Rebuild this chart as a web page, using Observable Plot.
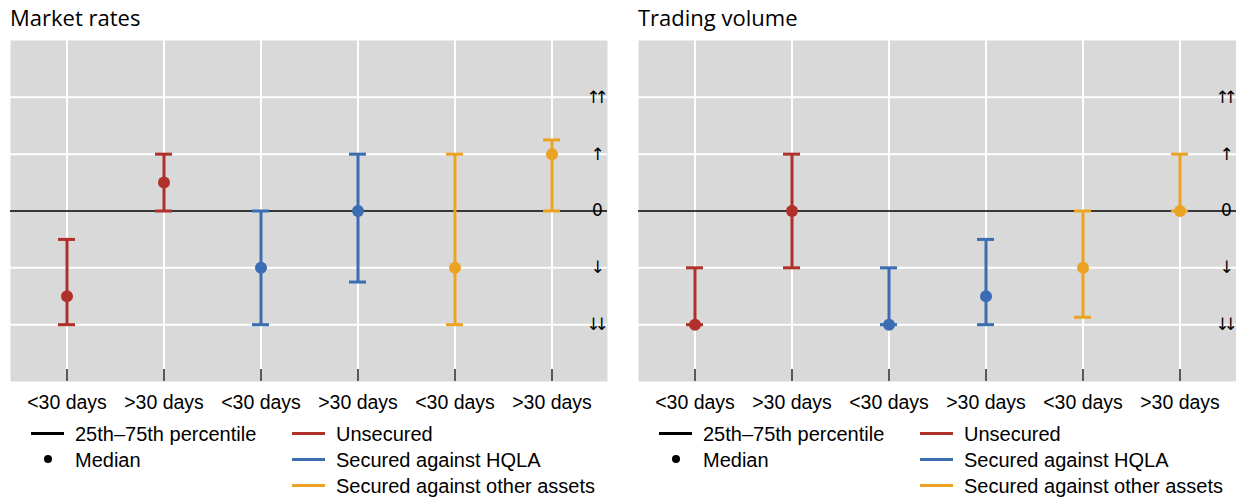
<!DOCTYPE html>
<html><head><meta charset="utf-8">
<script src="https://cdn.jsdelivr.net/npm/d3@7"></script>
<script src="https://cdn.jsdelivr.net/npm/@observablehq/plot@0.6"></script>
<style>
body{margin:0;background:#fff;width:1236px;height:499px;overflow:hidden;font-family:"Liberation Sans",Arial,sans-serif;}
.panel{position:absolute;top:0;height:499px;}
.title{position:absolute;left:10px;top:2px;font-family:"Open Sans",sans-serif;font-size:22px;line-height:30px;color:#000;white-space:nowrap;}
.chart{position:absolute;left:0;top:40px;}
.lg{position:absolute;font-size:20px;line-height:22px;height:22px;white-space:nowrap;color:#000}
.sw{position:absolute;height:3px;width:33px;}
.dot{position:absolute;width:8px;height:8px;border-radius:50%;background:#000}
.yarrow text{letter-spacing:-6px;}
</style></head><body>
<div id="root"></div>
<script>
const keys = ["U<30","U>30","H<30","H>30","O<30","O>30"];
const maturities = ["<30 days", ">30 days", "<30 days", ">30 days", "<30 days", ">30 days"];
const series = ["Unsecured","Unsecured","Secured against HQLA","Secured against HQLA","Secured against other assets","Secured against other assets"];
const seriesNames = ["Unsecured","Secured against HQLA","Secured against other assets"];
const seriesColors = ["#b0302b","#3b6db3","#eca223"];
const ratesLow = [-2, 0, -2, -1.25, -2, 0];
const ratesHigh = [-0.5, 1, 0, 1, 1, 1.25];
const ratesMedian = [-1.5, 0.5, -1, 0, -1, 1];
const volumeLow = [-2, -1, -2, -2, -1.87, 0];
const volumeHigh = [-1, 1, -1, -0.5, 0, 1];
const volumeMedian = [-2, 0, -2, -1.5, -1, 0];
const yTicks = [-2, -1, 0, 1, 2];
const yTickLabels = ["↓↓", "↓", "0", "↑", "↑↑"];
const panelTitles = ["Market rates", "Trading volume"];

const root = document.getElementById("root");

function makePanel(title, low, high, median, left, width, marginRight) {
  const data = keys.map((k, i) => ({key: k, label: maturities[i], series: series[i], low: low[i], high: high[i], median: median[i]}));
  const panel = document.createElement("div");
  panel.className = "panel";
  panel.style.left = left + "px";
  panel.style.width = width + "px";
  const t = document.createElement("div");
  t.className = "title";
  t.textContent = title;
  panel.appendChild(t);

  const chart = Plot.plot({
    width: width,
    height: 380,
    marginLeft: 10,
    marginRight: marginRight,
    marginTop: 0,
    marginBottom: 39,
    style: {background: "transparent", color: "#000", fontFamily: "Liberation Sans, Arial, sans-serif"},
    x: {type: "band", domain: keys, paddingInner: 0.825, paddingOuter: 0.48, label: null},
    y: {domain: [-3, 3], label: null},
    color: {domain: seriesNames, range: seriesColors},
    marks: [
      Plot.frame({fill: "#d9d9d9", stroke: null}),
      Plot.gridY(yTicks.filter(v => v !== 0), {stroke: "#fff", strokeOpacity: 1, strokeWidth: 2}),
      Plot.gridX(keys, {stroke: "#fff", strokeOpacity: 1, strokeWidth: 2}),
      Plot.ruleY([0], {stroke: "#000", strokeWidth: 1.3}),
      Plot.axisX(keys, {tickSize: 12, dy: -12, tickFormat: () => "", stroke: "#000", strokeWidth: 1.3}),
      Plot.axisX(keys, {tickSize: 0, tickPadding: 14, fontSize: 19.5, fill: "#000", tickFormat: k => maturities[keys.indexOf(k)]}),
      Plot.axisY(yTicks, {anchor: "right", tickSize: 0, tickPadding: 0, dx: -13, textAnchor: "middle", fontSize: 17, fontFamily: "DejaVu Sans", fill: "#000", tickFormat: v => yTickLabels[yTicks.indexOf(v)]}),
      Plot.ruleX(data, {x: "key", y1: "low", y2: "high", stroke: "series", strokeWidth: 3}),
      Plot.tickY(data, {x: "key", y: "low", stroke: "series", strokeWidth: 3}),
      Plot.tickY(data, {x: "key", y: "high", stroke: "series", strokeWidth: 3}),
      Plot.dot(data, {x: "key", y: "median", fill: "series", r: 6})
    ]
  });
  chart.classList.add("chart");
  chart.querySelectorAll('g[aria-label="y-axis tick label"]').forEach(g => g.classList.add("yarrow"));
  panel.appendChild(chart);

  // legend
  const addText = (txt, x, top) => {
    const d = document.createElement("div");
    d.className = "lg"; d.style.left = x + "px"; d.style.top = top + "px"; d.textContent = txt;
    panel.appendChild(d);
  };
  const addSwatch = (color, x, cy) => {
    const s = document.createElement("div");
    s.className = "sw"; s.style.left = x + "px"; s.style.top = (cy - 1.5) + "px"; s.style.background = color;
    panel.appendChild(s);
  };
  const rows = [433, 459, 485];
  addSwatch("#000", 31, rows[0]);
  addText("25th–75th percentile", 75, rows[0] - 10);
  const dot = document.createElement("div");
  dot.className = "dot"; dot.style.left = "44px"; dot.style.top = (rows[1] - 4) + "px";
  panel.appendChild(dot);
  addText("Median", 75, rows[1] - 10);
  seriesNames.forEach((name, i) => {
    addSwatch(seriesColors[i], 292, rows[i]);
    addText(name, 336, rows[i] - 10);
  });
  root.appendChild(panel);
}

makePanel(panelTitles[0], ratesLow, ratesHigh, ratesMedian, 0, 618, 11);
makePanel(panelTitles[1], volumeLow, volumeHigh, volumeMedian, 628, 608, 0);
</script>
</body></html>
